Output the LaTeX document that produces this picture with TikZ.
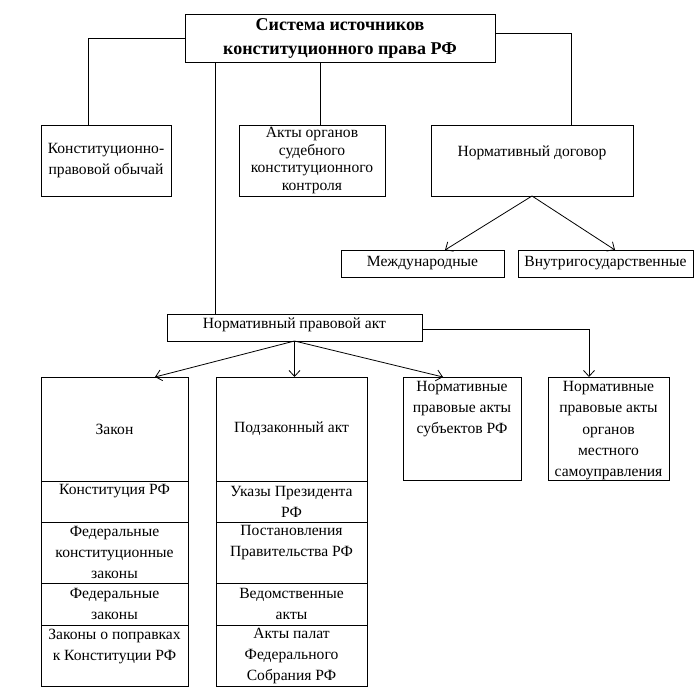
\documentclass[tikz,border=0pt]{standalone}
\usepackage{fontspec}
\setmainfont{Liberation Serif}
\usetikzlibrary{arrows.meta,positioning,calc}

\tikzset{
  box/.style={draw, inner sep=0pt, outer sep=0pt, align=center},
  txt/.style={inner sep=0pt, align=center},
  conn/.style={-{Straight Barb[length=6pt,width=11pt]}},
}

\begin{document}
\begin{tikzpicture}[x=1pt,y=1pt,yscale=-1,line width=0.8pt,
  font=\fontsize{15.6}{21}\selectfont]
\useasboundingbox (0,0) rectangle (700,693);

% Top box
\node[box, minimum width=310, minimum height=48,
  font=\bfseries\fontsize{18}{24}\selectfont] (sys) at (340,38)
  {Система источников\\конституционного права РФ};

% Second row
\node[box, minimum width=130, minimum height=71] (custom) at (106,160.5)
  {Конституционно-\\правовой обычай};
\node[box, minimum width=146, minimum height=71,
  font=\fontsize{15.6}{17.5}\selectfont] (court) at (312,160.5)
  {Акты органов\\судебного\\конституционного\\контроля};
\node[box, minimum width=202, minimum height=71] (treaty) at (532,160.5) {};
\node[txt] (ttreaty) at ($(treaty.center)+(0,-7.5)$) {Нормативный договор};

\node[box, minimum width=163, minimum height=27] (intl) at (422.5,263.5) {Международные};
\node[box, minimum width=175, minimum height=27] (dom) at (605.5,263.5) {Внутригосударственные};

% Normative act
\node[box, minimum width=255, minimum height=27] (npa) at (294.5,327.5) {};
\node[txt] (tnpa) at ($(npa.center)+(0,-3)$) {Нормативный правовой акт};

\node[box, minimum width=147, minimum height=104] (zakon) at (114.5,429) {Закон};
\node[box, minimum width=151, minimum height=104] (pz) at (291.5,429) {Подзаконный акт};
\node[box, minimum width=118, minimum height=103] (subj) at (462,428.5) {};
\node[txt, anchor=north] (tsubj) at ($(subj.north)+(0,4)$)
  {Нормативные\\правовые акты\\субъектов РФ};
\node[box, minimum width=121, minimum height=103] (local) at (608.5,428.5) {};
\node[txt, anchor=north, font=\fontsize{15.6}{21.3}\selectfont] (tlocal)
  at ($(local.north)+(0,4)$)
  {Нормативные\\правовые акты\\органов\\местного\\самоуправления};

% Law column
\node[box, minimum width=147, minimum height=41, below=0pt of zakon] (konst) {};
\node[txt, anchor=north] (tkonst) at ($(konst.north)+(0,3)$) {Конституция РФ};
\node[box, minimum width=147, minimum height=61, below=0pt of konst] (fkz)
  {Федеральные\\конституционные\\законы};
\node[box, minimum width=147, minimum height=42, below=0pt of fkz] (fz)
  {Федеральные\\законы};
\node[box, minimum width=147, minimum height=61, below=0pt of fz] (popr) {};
\node[txt, anchor=north] (tpopr) at ($(popr.north)+(0,4)$)
  {Законы о поправках\\к Конституции РФ};

% By-law column
\node[box, minimum width=151, minimum height=41, below=0pt of pz] (ukaz)
  {Указы Президента\\РФ};
\node[box, minimum width=151, minimum height=61, below=0pt of ukaz] (post) {};
\node[txt, anchor=north] (tpost) at ($(post.north)+(0,3)$)
  {Постановления\\Правительства РФ};
\node[box, minimum width=151, minimum height=42, below=0pt of post] (ved)
  {Ведомственные\\акты};
\node[box, minimum width=151, minimum height=61, below=0pt of ved] (palat)
  {Акты палат\\Федерального\\Собрания РФ};

% Connectors
\draw (sys.west) -| ($(custom.north)+(-18,0)$);
\draw ($(sys.east)+(0,-5)$) -| ($(treaty.north)+(39,0)$);
\draw ($(sys.south)+(-20,0)$) -- ($(court.north)+(8,0)$);
\draw ($(sys.south)+(-125,0)$) -- ($(npa.north)+(-79.5,0)$);
\draw[conn] (treaty.south) -- ($(intl.north)+(22.5,0)$);
\draw[conn] (treaty.south) -- ($(dom.north)+(9.5,0)$);
\draw[conn] (npa.south) -- ($(zakon.north)+(40.5,0)$);
\draw[conn] (npa.south) -- (npa.south |- pz.north);
\draw[conn] (npa.south) -- ($(subj.north)+(-19,0)$);
\draw[conn] ($(npa.east)+(0,1.5)$) -| ($(local.north)+(-19.5,0)$);

\end{tikzpicture}
\end{document}
